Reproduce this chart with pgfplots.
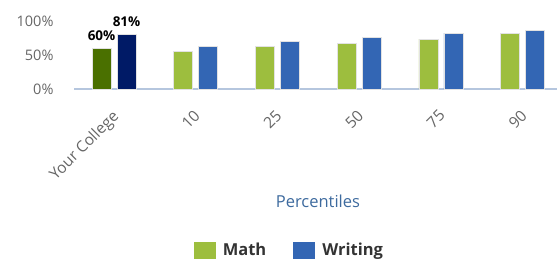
\documentclass[border=0pt]{standalone}
\usepackage{pgfplots}
\pgfplotsset{compat=1.18}
\usepackage{fontspec}
\setmainfont{Open Sans}
\definecolor{mathc}{HTML}{9DBE3E}
\definecolor{writc}{HTML}{3366B4}
\definecolor{mathyc}{HTML}{4A7000}
\definecolor{writyc}{HTML}{001A66}
\definecolor{axc}{HTML}{B5C6DE}
\definecolor{tickc}{HTML}{666666}
\definecolor{labc}{HTML}{3D6A9E}
\definecolor{legc}{HTML}{333333}
\definecolor{edgec}{HTML}{E2E2E2}
\begin{document}
\begin{tikzpicture}
\useasboundingbox (0,0) rectangle (557pt,263pt);
\begin{axis}[
  at={(74pt,174pt)}, anchor=south west,
  scale only axis, width=483pt, height=68pt,
  xmin=-0.49, xmax=5.42, ymin=0, ymax=100,
  clip=false,
  axis x line*=bottom, axis y line*=left,
  x axis line style={draw=axc, line width=1.8pt},
  y axis line style={draw=none},
  tick style={draw=none},
  ytick={0,50,100}, yticklabels={0\%,50\%,100\%},
  xtick={0,1,2,3,4,5},
  xticklabels={Your College,10,25,50,75,90},
  y tick label style={font=\fontsize{14.5}{16}\selectfont, text=tickc, xshift=-17pt},
  x tick label style={font=\fontsize{15.5}{17}\selectfont, text=tickc, rotate=45, anchor=north east, xshift=-12.5pt, yshift=-8.5pt},
  xlabel={Percentiles},
  xlabel style={at={(axis description cs:0.505,-1.65)}, anchor=center, font=\fontsize{16.5}{18}\selectfont, text=labc},
  bar width=19pt,
  legend columns=2,
  legend style={at={(axis description cs:0.446,-2.37)}, anchor=center, draw=none, fill=none,
    font=\fontsize{16.5}{18}\selectfont\bfseries, text=legc,
    /tikz/every odd column/.append style={column sep=5pt},
    /tikz/every even column/.append style={column sep=25pt}},
  legend image code/.code={\fill[#1, draw=none] (0pt,-8.5pt) rectangle (22pt,8.5pt);},
]
\addplot[ybar, bar shift=-12.5pt, fill=mathc, draw=edgec, line width=0.8pt]
  coordinates {(1,55.5) (2,63) (3,67.5) (4,73.5) (5,82)};
\addlegendentry{Math}
\addplot[ybar, bar shift=12.5pt, fill=writc, draw=edgec, line width=0.8pt]
  coordinates {(1,63) (2,70) (3,76) (4,82) (5,86)};
\addlegendentry{Writing}
\addplot[ybar, bar shift=-12.5pt, fill=mathyc, draw=edgec, line width=0.8pt, forget plot]
  coordinates {(0,60)};
\addplot[ybar, bar shift=12.5pt, fill=writyc, draw=edgec, line width=0.8pt, forget plot]
  coordinates {(0,81)};
\node[anchor=south, xshift=-12.5pt, yshift=6pt, inner sep=1pt, font=\fontsize{13.5}{15}\selectfont\bfseries, text=black] at (axis cs:0,60) {60\%};
\node[anchor=south, xshift=12.5pt, yshift=6pt, inner sep=1pt, font=\fontsize{13.5}{15}\selectfont\bfseries, text=black] at (axis cs:0,81) {81\%};
\end{axis}
\end{tikzpicture}
\end{document}
